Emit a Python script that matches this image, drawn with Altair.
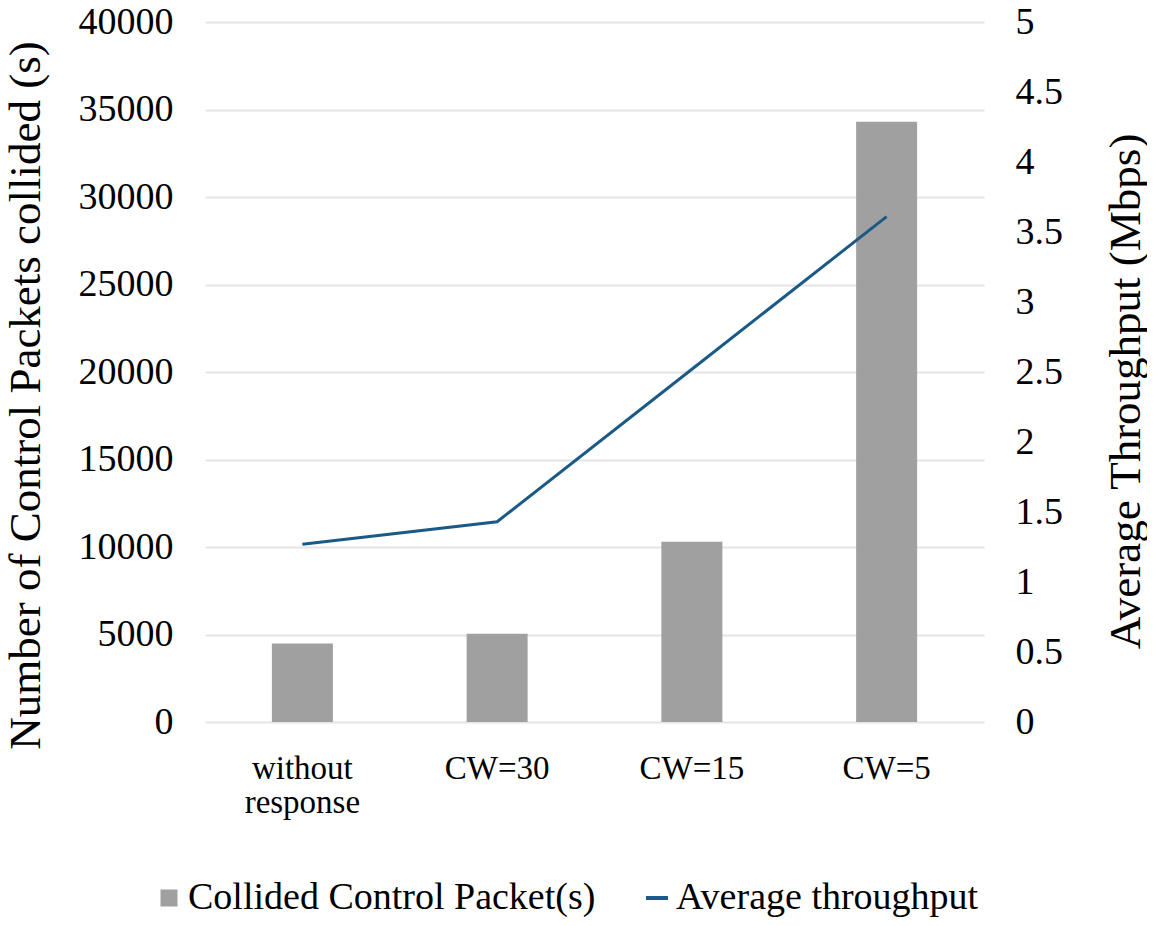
import altair as alt
import pandas as pd

categories = ["without response", "CW=30", "CW=15", "CW=5"]
collided = [4480, 5050, 10300, 34300]
throughput = [1.27, 1.43, 2.52, 3.61]
series_names = ["Collided Control Packet(s)", "Average throughput"]
left_ticks = [0, 5000, 10000, 15000, 20000, 25000, 30000, 35000, 40000]
right_ticks = [0, 0.5, 1, 1.5, 2, 2.5, 3, 3.5, 4, 4.5, 5]

df = pd.DataFrame({
    "cat": categories,
    "collided": collided,
    "throughput": throughput,
    "s_bar": series_names[0],
    "s_line": series_names[1],
})

FONT = "Liberation Serif"
W, H = 779, 700

x_enc = alt.X(
    "cat:N",
    sort=categories,
    title=None,
    scale=alt.Scale(paddingInner=0, paddingOuter=0),
    axis=alt.Axis(
        labelAngle=0,
        labelFont=FONT,
        labelFontSize=33,
        labelColor="#000000",
        labelPadding=30,
        labelLineHeight=34,
        ticks=False,
        domain=False,
        grid=False,
        labelExpr="datum.label == 'without response' ? ['without', 'response'] : datum.label",
    ),
)


def make_legend(symbol, size, x, sym_offset, stroke_w):
    return alt.Legend(
        title=None,
        orient="none",
        legendX=x,
        legendY=857,
        direction="horizontal",
        padding=0,
        labelFont=FONT,
        labelFontSize=38,
        labelColor="#000000",
        symbolType=symbol,
        symbolSize=size,
        symbolStrokeWidth=stroke_w,
        symbolOffset=sym_offset,
        labelOffset=0,
        labelLimit=500,
    )


bars = alt.Chart(df).mark_bar(size=61).encode(
    x=x_enc,
    y=alt.Y(
        "collided:Q",
        title="Number of Control Packets collided (s)",
        scale=alt.Scale(domain=[0, 40000], nice=False),
        axis=alt.Axis(
            values=left_ticks,
            format="d",
            labelFont=FONT,
            labelFontSize=38,
            labelColor="#000000",
            labelPadding=32,
            titleFont=FONT,
            titleFontSize=45,
            titleFontWeight="normal",
            titleColor="#000000",
            titleAngle=270,
            titleBaseline="alphabetic",
            titleX=-166,
            titleY=373,
            ticks=False,
            domain=False,
            grid=True,
            gridColor="#E4E4E4",
            gridWidth=2,
        ),
    ),
    color=alt.Color(
        "s_bar:N",
        scale=alt.Scale(domain=[series_names[0]], range=["#A0A0A0"]),
        legend=make_legend("square", 289, -55, 0, 0),
    ),
)

line = alt.Chart(df).mark_line(strokeWidth=3).encode(
    x=x_enc,
    y=alt.Y(
        "throughput:Q",
        title="Average Throughput (Mbps)",
        scale=alt.Scale(domain=[0, 5], nice=False),
        axis=alt.Axis(
            orient="right",
            values=right_ticks,
            format="~g",
            labelFont=FONT,
            labelFontSize=38,
            labelColor="#000000",
            labelPadding=31,
            titleFont=FONT,
            titleFontSize=45,
            titleFontWeight="normal",
            titleColor="#000000",
            titleAngle=270,
            titleBaseline="alphabetic",
            titleX=155,
            titleY=369,
            ticks=False,
            domain=False,
            grid=False,
        ),
    ),
    color=alt.Color(
        "s_line:N",
        scale=alt.Scale(domain=[series_names[1]], range=["#1B5A87"]),
        legend=make_legend("stroke", 484, 433, 0, 4),
    ),
)

chart = (
    alt.layer(bars, line)
    .resolve_scale(y="independent", color="independent")
    .properties(
        width=W,
        height=H,
        background="#FFFFFF",
        autosize=alt.AutoSizeParams(type="none"),
        padding={"top": 14, "left": 197, "right": 163, "bottom": 196},
    )
    .configure_view(stroke="transparent", strokeWidth=0)
)

chart.save("out.html", embed_options={"renderer": "svg", "actions": False})
